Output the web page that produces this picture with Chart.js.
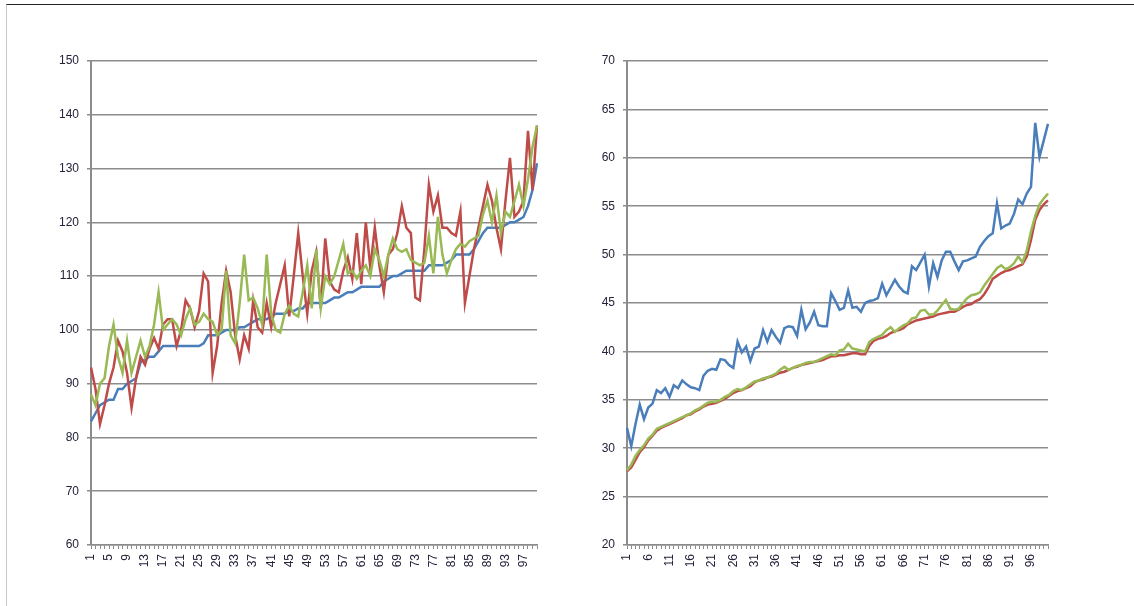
<!DOCTYPE html>
<html>
<head>
<meta charset="utf-8">
<script src="https://cdn.jsdelivr.net/npm/chart.js@4/dist/chart.umd.min.js"></script>
<style>
  html, body { margin: 0; padding: 0; background: #fff; overflow: hidden; }
  #frame { position: absolute; left: 6px; top: 4px; width: 1128px; height: 602px;
           border-top: 1px solid #222; border-left: 1px solid #c8c8c8; }
  #left { position: absolute; left: 0; top: 0; }
  #right { position: absolute; left: 567px; top: 0; }
</style>
</head>
<body>
<div id="frame"></div>
<canvas id="left" width="567" height="606"></canvas>
<canvas id="right" width="567" height="606"></canvas>
<script>
const categories = Array.from({ length: 100 }, (_, i) => String(i + 1));

// left chart
const leftBlue = [83,84.5,86,86.5,87,87,89,89,90,90.5, 91,94,94.5,95,95,96,97,97,97,97,
  97,97,97,97,97,97.5,99,99,99,99.5, 100,100,100,100.5,100.5,101,101.5,102,102,102,
  102.5,103,103,103,103.5,103.5,104,104,105,105, 105,105,105,105.5,106,106,106.5,107,107,107.5,
  108,108,108,108,108,109,109.5,110,110,110.5, 111,111,111,111,111,112,112,112,112,112.5,
  113,114,114,114,114,115,116.5,118,119,119, 119,119,119.5,120,120,120.5,121,123,126,131];
const leftRed = [93,89,82.5,86,90,93,98,96,92,85.5, 91,95,93.5,96.5,98.5,96.5,101,102,102,97,
  100,105.5,104,100.5,103.5,110.5,109,92,97,105, 111,107,99,94.5,99,96.5,105.5,100.5,99.5,105,
  100.5,105,108.5,112,102.5,110,118,110,103,111, 114.5,104,117,109,107.5,107,111,113.5,109.5,118,
  108.5,120,111.5,119,112,107,114,115,118,123, 119,118,106,105.5,115,127,122,125,119,119,
  118,117.5,122,105,110,115,119,123,127,124, 119,115,124,132,121,122,124,137,126,138];
const leftGreen = [88,86,90,91,97,101,95,92,98,92, 95,98,95,97,101,107,100,101,102,101,
  99,102,104,101,101.5,103,102,101.5,99,100, 111,99,97.5,105,114,105.5,106,104,101,114,
  103,100,99.5,103,104.5,103,102.5,107,112,104, 115,104,110,108.5,110,113,116,110.5,111,109.5,
  111,112,110,115,113,110,114,117,115,114.5, 115,113,112.5,112,112.5,117.5,110.5,121,114,110.5,
  113,115,116,115.5,116.5,117,117.5,121.5,124,120, 125,118,122,121,124,127,123,128,134,138];

// right chart
const rightBlue = [32.1,30.2,32.5,34.5,33,34.2,34.6,36,35.7,36.2, 35.3,36.5,36.2,37,36.6,36.3,36.2,36,37.5,38,
  38.2,38.1,39.2,39.1,38.6,38.3,41,39.9,40.5,39, 40.3,40.5,42.2,41,42.2,41.5,40.9,42.4,42.6,42.5,
  41.6,44.3,42.3,43,44.1,42.7,42.6,42.6,46,45.2, 44.3,44.5,46.3,44.5,44.6,44.1,45,45.2,45.3,45.5,
  47,45.8,46.6,47.4,46.7,46.2,46,48.8,48.4,49.2, 50,46.7,49.1,47.7,49.4,50.3,50.3,49.3,48.4,49.3,
  49.4,49.6,49.8,50.8,51.4,51.9,52.2,55.3,52.7,53, 53.2,54.2,55.7,55.2,56.3,57,63.6,60.1,61.8,63.5];
const rightRed = [27.6,28,28.8,29.6,30.1,30.8,31.3,31.8,32.1,32.3, 32.5,32.7,32.9,33.1,33.4,33.5,33.8,34,34.3,34.5,
  34.6,34.7,34.9,35.1,35.4,35.7,35.9,36,36.2,36.4, 36.8,37,37.1,37.3,37.4,37.6,37.8,37.9,38.1,38.3,
  38.4,38.6,38.7,38.8,38.9,39,39.1,39.3,39.5,39.5, 39.6,39.6,39.7,39.8,39.8,39.7,39.7,40.6,41.1,41.3,
  41.4,41.6,41.9,42.1,42.2,42.4,42.8,43,43.2,43.3, 43.4,43.5,43.6,43.8,43.9,44,44.1,44.1,44.3,44.6,
  44.8,44.9,45.2,45.4,45.9,46.6,47.5,47.8,48.1,48.3, 48.4,48.6,48.8,49,49.8,51.5,53.6,54.6,55.2,55.6];
const rightGreen = [27.7,28.3,29.2,29.8,30.3,31,31.4,32,32.2,32.4, 32.6,32.8,33,33.2,33.4,33.6,33.9,34.1,34.4,34.7,
  34.8,34.8,35,35.3,35.5,35.9,36.1,36,36.3,36.6, 36.9,37,37.2,37.3,37.5,37.7,38.1,38.4,38.1,38.3,
  38.5,38.6,38.8,38.9,38.9,39.1,39.3,39.5,39.7,39.6, 40.1,40.2,40.8,40.3,40.2,40.1,40,41,41.3,41.5,
  41.7,42.2,42.5,42,42.4,42.7,42.9,43.4,43.5,44.2, 44.3,43.8,43.8,44.2,44.8,45.3,44.4,44.3,44.4,45,
  45.5,45.8,45.9,46.1,46.8,47.4,48,48.6,48.9,48.5, 48.7,49.1,49.8,49.2,50.4,52.4,54,55.2,55.8,56.3];

const gridGrey = '#8c8c8c';
const tickFont = { family: 'Liberation Sans, Arial, sans-serif', size: 12 };
const tickColor = '#23233a';

function makeChart(id, blue, red, green, yMin, yMax, yStep, every, yWidth, rightPad) {
  new Chart(document.getElementById(id), {
    type: 'line',
    data: {
      labels: categories,
      datasets: [
        { data: blue, borderColor: '#4a7ebb', order: 3 },
        { data: red, borderColor: '#be4b48', order: 2 },
        { data: green, borderColor: '#98b954', order: 1 }
      ]
    },
    options: {
      responsive: false,
      animation: false,
      layout: { padding: { top: 61, right: rightPad, bottom: 0, left: 0 } },
      plugins: { legend: { display: false }, tooltip: { enabled: false } },
      elements: {
        point: { radius: 0 },
        line: { borderWidth: 2.5, tension: 0, fill: false }
      },
      scales: {
        x: {
          offset: false,
          grid: { drawOnChartArea: false, drawTicks: true, tickLength: 4, color: gridGrey, lineWidth: 1 },
          border: { display: true, color: gridGrey, width: 1.5 },
          ticks: {
            autoSkip: false, maxRotation: 90, minRotation: 90, padding: 5,
            font: tickFont, color: tickColor,
            callback: (v, i) => (i % every === 0 ? categories[i] : '')
          },
          afterFit: s => { s.height = 61; }
        },
        y: {
          min: yMin, max: yMax,
          ticks: { stepSize: yStep, padding: 8, font: tickFont, color: tickColor },
          grid: { color: gridGrey, lineWidth: 1.5, tickLength: 4 },
          border: { display: true, color: gridGrey, width: 2 },
          afterFit: s => { s.width = yWidth; }
        }
      }
    }
  });
}

makeChart('left', leftBlue, leftRed, leftGreen, 60, 150, 10, 4, 91, 30);
makeChart('right', rightBlue, rightRed, rightGreen, 20, 70, 5, 5, 60, 86);
</script>
</body>
</html>
